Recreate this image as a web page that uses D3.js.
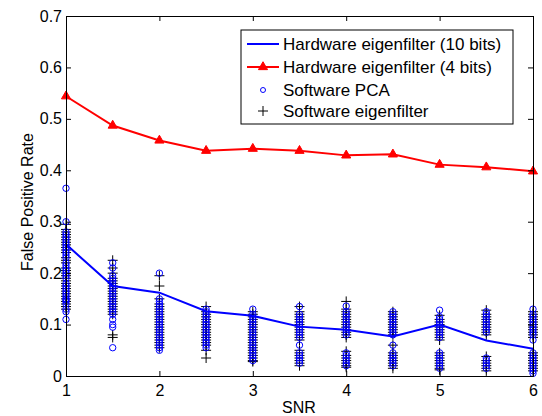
<!DOCTYPE html>
<html>
<head>
<meta charset="utf-8">
<script src="https://cdn.jsdelivr.net/npm/d3@7"></script>
<style>
  body { margin: 0; background: #fff; }
  svg text { font-family: "Liberation Sans", Arial, Helvetica, sans-serif; }
</style>
</head>
<body>
<div id="chart"></div>
<script>
// SNR levels on the x axis
const snr = [1, 1.5, 2, 2.5, 3, 3.5, 4, 4.5, 5, 5.5, 6];

// line series
const hw10 = [0.256, 0.175, 0.162, 0.126, 0.117, 0.096, 0.090, 0.077, 0.100, 0.069, 0.053];
const hw4 = [0.544, 0.487, 0.458, 0.438, 0.442, 0.438, 0.429, 0.431, 0.411, 0.406, 0.398];

// scatter: one list of trial values per SNR level
const swPCA = [
  [0.365, 0.30, 0.28, 0.275, 0.27, 0.265, 0.26, 0.255, 0.25, 0.245, 0.24, 0.235, 0.23, 0.22, 0.215, 0.21, 0.205, 0.20, 0.195, 0.19, 0.18, 0.175, 0.17, 0.165, 0.16, 0.155, 0.15, 0.148, 0.145, 0.14, 0.13, 0.125, 0.11],
  [0.22, 0.21, 0.195, 0.19, 0.185, 0.18, 0.175, 0.17, 0.165, 0.16, 0.155, 0.15, 0.145, 0.14, 0.135, 0.13, 0.125, 0.12, 0.11, 0.10, 0.095, 0.055],
  [0.20, 0.15, 0.145, 0.14, 0.135, 0.13, 0.125, 0.12, 0.115, 0.11, 0.105, 0.10, 0.095, 0.09, 0.085, 0.08, 0.075, 0.07, 0.065, 0.06, 0.055, 0.05],
  [0.13, 0.125, 0.12, 0.115, 0.11, 0.105, 0.10, 0.095, 0.09, 0.085, 0.08, 0.075, 0.07, 0.065, 0.06, 0.055],
  [0.13, 0.12, 0.115, 0.11, 0.105, 0.10, 0.095, 0.09, 0.085, 0.08, 0.075, 0.07, 0.065, 0.06, 0.055, 0.05, 0.045, 0.04, 0.035, 0.03],
  [0.135, 0.12, 0.115, 0.11, 0.105, 0.10, 0.095, 0.09, 0.085, 0.08, 0.075, 0.06, 0.045, 0.04, 0.035, 0.03, 0.025],
  [0.136, 0.125, 0.12, 0.115, 0.11, 0.105, 0.10, 0.095, 0.09, 0.085, 0.08, 0.045, 0.04, 0.035, 0.03, 0.025, 0.02],
  [0.125, 0.12, 0.115, 0.11, 0.105, 0.10, 0.095, 0.09, 0.085, 0.08, 0.06, 0.045, 0.04, 0.035, 0.03, 0.025, 0.02],
  [0.128, 0.115, 0.11, 0.105, 0.10, 0.095, 0.09, 0.085, 0.08, 0.075, 0.045, 0.04, 0.035, 0.03, 0.025, 0.02, 0.015],
  [0.125, 0.12, 0.115, 0.11, 0.105, 0.10, 0.095, 0.09, 0.085, 0.035, 0.03, 0.025, 0.02, 0.015],
  [0.13, 0.12, 0.115, 0.11, 0.105, 0.10, 0.095, 0.09, 0.085, 0.08, 0.07, 0.045, 0.04, 0.035, 0.03, 0.025, 0.02, 0.015, 0.01, 0.005]
];
const swEigen = [
  [0.295, 0.285, 0.28, 0.275, 0.27, 0.265, 0.26, 0.255, 0.25, 0.245, 0.24, 0.23, 0.225, 0.22, 0.21, 0.205, 0.20, 0.195, 0.19, 0.185, 0.18, 0.175, 0.17, 0.165, 0.16, 0.155, 0.15, 0.145, 0.14, 0.135, 0.13],
  [0.225, 0.21, 0.20, 0.19, 0.185, 0.18, 0.175, 0.17, 0.165, 0.16, 0.155, 0.15, 0.145, 0.14, 0.135, 0.13, 0.125, 0.12, 0.08, 0.075],
  [0.195, 0.175, 0.15, 0.14, 0.135, 0.13, 0.125, 0.12, 0.115, 0.11, 0.105, 0.10, 0.095, 0.09, 0.085, 0.08, 0.075, 0.07, 0.065, 0.06, 0.055],
  [0.135, 0.125, 0.12, 0.115, 0.11, 0.105, 0.10, 0.095, 0.09, 0.085, 0.08, 0.075, 0.07, 0.065, 0.06, 0.05, 0.035],
  [0.125, 0.12, 0.115, 0.11, 0.105, 0.10, 0.095, 0.09, 0.085, 0.08, 0.075, 0.07, 0.065, 0.06, 0.055, 0.05, 0.045, 0.04, 0.035, 0.03, 0.028],
  [0.135, 0.125, 0.12, 0.115, 0.11, 0.105, 0.10, 0.095, 0.09, 0.085, 0.08, 0.075, 0.07, 0.05, 0.045, 0.04, 0.035, 0.03, 0.025, 0.02],
  [0.145, 0.13, 0.125, 0.12, 0.115, 0.11, 0.105, 0.10, 0.095, 0.09, 0.085, 0.08, 0.075, 0.048, 0.04, 0.035, 0.03, 0.025, 0.02, 0.017],
  [0.125, 0.12, 0.115, 0.11, 0.105, 0.10, 0.095, 0.09, 0.085, 0.08, 0.06, 0.045, 0.04, 0.035, 0.03, 0.025, 0.02, 0.015],
  [0.118, 0.11, 0.105, 0.10, 0.095, 0.09, 0.085, 0.08, 0.075, 0.07, 0.045, 0.04, 0.035, 0.03, 0.025, 0.02, 0.015, 0.012],
  [0.128, 0.12, 0.115, 0.11, 0.105, 0.10, 0.095, 0.09, 0.085, 0.08, 0.038, 0.03, 0.025, 0.02, 0.015, 0.01],
  [0.125, 0.12, 0.115, 0.11, 0.105, 0.10, 0.095, 0.09, 0.085, 0.08, 0.075, 0.045, 0.04, 0.035, 0.03, 0.025, 0.02, 0.015, 0.01]
];

const xTicks = [1, 2, 3, 4, 5, 6];
const yTicks = [0, 0.1, 0.2, 0.3, 0.4, 0.5, 0.6, 0.7];
const legendLabels = ['Hardware eigenfilter (10 bits)', 'Hardware eigenfilter (4 bits)', 'Software PCA', 'Software eigenfilter'];

const width = 542, height = 416;
const margin = { top: 16, right: 9, bottom: 40, left: 66 };
const fontSize = 16;

const svg = d3.select('#chart').append('svg')
  .attr('width', width)
  .attr('height', height);

const x = d3.scaleLinear().domain([1, 6]).range([margin.left, width - margin.right]);
const y = d3.scaleLinear().domain([0, 0.7]).range([height - margin.bottom, margin.top]);

// flatten scatter
const toPoints = arr => arr.flatMap((vals, i) => vals.map(v => ({ x: snr[i], y: v })));
const eigenPts = toPoints(swEigen);
const pcaPts = toPoints(swPCA);

const plot = svg.append('g');

// software eigenfilter: black plus
plot.selectAll('.plus')
  .data(eigenPts)
  .join('path')
  .attr('class', 'plus')
  .attr('d', d => {
    const cx = x(d.x), cy = y(d.y), s = 5;
    return `M${cx - s},${cy}H${cx + s}M${cx},${cy - s}V${cy + s}`;
  })
  .attr('stroke', '#000')
  .attr('stroke-width', 1)
  .attr('fill', 'none');

// software PCA: blue circles
plot.selectAll('.pca')
  .data(pcaPts)
  .join('circle')
  .attr('class', 'pca')
  .attr('cx', d => x(d.x))
  .attr('cy', d => y(d.y))
  .attr('r', 3.2)
  .attr('fill', 'none')
  .attr('stroke', '#0000ff')
  .attr('stroke-width', 1);

const line = d3.line().x((d, i) => x(snr[i])).y(d => y(d));

plot.append('path')
  .datum(hw10)
  .attr('d', line)
  .attr('fill', 'none')
  .attr('stroke', '#0000ff')
  .attr('stroke-width', 2);

plot.append('path')
  .datum(hw4)
  .attr('d', line)
  .attr('fill', 'none')
  .attr('stroke', '#ff0000')
  .attr('stroke-width', 2);

const tri = d3.symbol().type(d3.symbolTriangle).size(36);
plot.selectAll('.tri')
  .data(hw4)
  .join('path')
  .attr('class', 'tri')
  .attr('d', tri)
  .attr('transform', (d, i) => `translate(${x(snr[i])},${y(d)})`)
  .attr('fill', '#ff0000')
  .attr('stroke', '#ff0000')
  .attr('stroke-width', 1);

// axes box with inward ticks (MATLAB style)
const x0 = margin.left, x1 = width - margin.right;
const y0 = height - margin.bottom, y1 = margin.top;

const axBottom = svg.append('g').attr('transform', `translate(0,${y0})`)
  .call(d3.axisBottom(x).tickValues(xTicks).tickFormat(d3.format('d')).tickSizeInner(-5).tickSizeOuter(0).tickPadding(9));
const axTop = svg.append('g').attr('transform', `translate(0,${y1})`)
  .call(d3.axisTop(x).tickValues(xTicks).tickFormat('').tickSizeInner(-5).tickSizeOuter(0));
const axLeft = svg.append('g').attr('transform', `translate(${x0},0)`)
  .call(d3.axisLeft(y).tickValues(yTicks).tickFormat(d => d === 0 ? '0' : d3.format('.1f')(d)).tickSizeInner(-5).tickSizeOuter(0).tickPadding(4));
const axRight = svg.append('g').attr('transform', `translate(${x1},0)`)
  .call(d3.axisRight(y).tickValues(yTicks).tickFormat('').tickSizeInner(-5).tickSizeOuter(0));

[axBottom, axTop, axLeft, axRight].forEach(g => {
  g.selectAll('.domain').attr('stroke', '#000').attr('stroke-width', 1);
  g.selectAll('.tick line').attr('stroke', '#000');
  g.selectAll('text').attr('font-size', fontSize).attr('fill', '#000')
    .style('font-family', '"Liberation Sans", Arial, sans-serif');
});

// axis labels
svg.append('text')
  .attr('x', 299)
  .attr('y', 413)
  .attr('text-anchor', 'middle')
  .attr('font-size', fontSize)
  .text('SNR');

svg.append('text')
  .attr('transform', 'translate(33,202) rotate(-90)')
  .attr('text-anchor', 'middle')
  .attr('font-size', fontSize)
  .text('False Positive Rate');

// legend
const lg = svg.append('g').attr('transform', 'translate(241,30)');
lg.append('rect')
  .attr('width', 272)
  .attr('height', 94)
  .attr('fill', '#fff')
  .attr('stroke', '#000')
  .attr('stroke-width', 1);

const rowY = [14, 37, 60, 81];
lg.selectAll('.lt')
  .data(legendLabels)
  .join('text')
  .attr('class', 'lt')
  .attr('x', 42)
  .attr('y', (d, i) => rowY[i] + 6)
  .attr('font-size', 17)
  .text(d => d);

lg.append('line').attr('x1', 6).attr('x2', 38).attr('y1', rowY[0]).attr('y2', rowY[0])
  .attr('stroke', '#0000ff').attr('stroke-width', 2);
lg.append('line').attr('x1', 6).attr('x2', 38).attr('y1', rowY[1]).attr('y2', rowY[1])
  .attr('stroke', '#ff0000').attr('stroke-width', 2);
lg.append('path').attr('d', tri).attr('transform', `translate(22,${rowY[1]})`)
  .attr('fill', '#ff0000').attr('stroke', '#ff0000');
lg.append('circle').attr('cx', 22).attr('cy', rowY[2]).attr('r', 2.5)
  .attr('fill', 'none').attr('stroke', '#0000ff');
lg.append('path').attr('d', `M17,${rowY[3]}H27M22,${rowY[3] - 5}V${rowY[3] + 5}`)
  .attr('stroke', '#000').attr('fill', 'none');
</script>
</body>
</html>
